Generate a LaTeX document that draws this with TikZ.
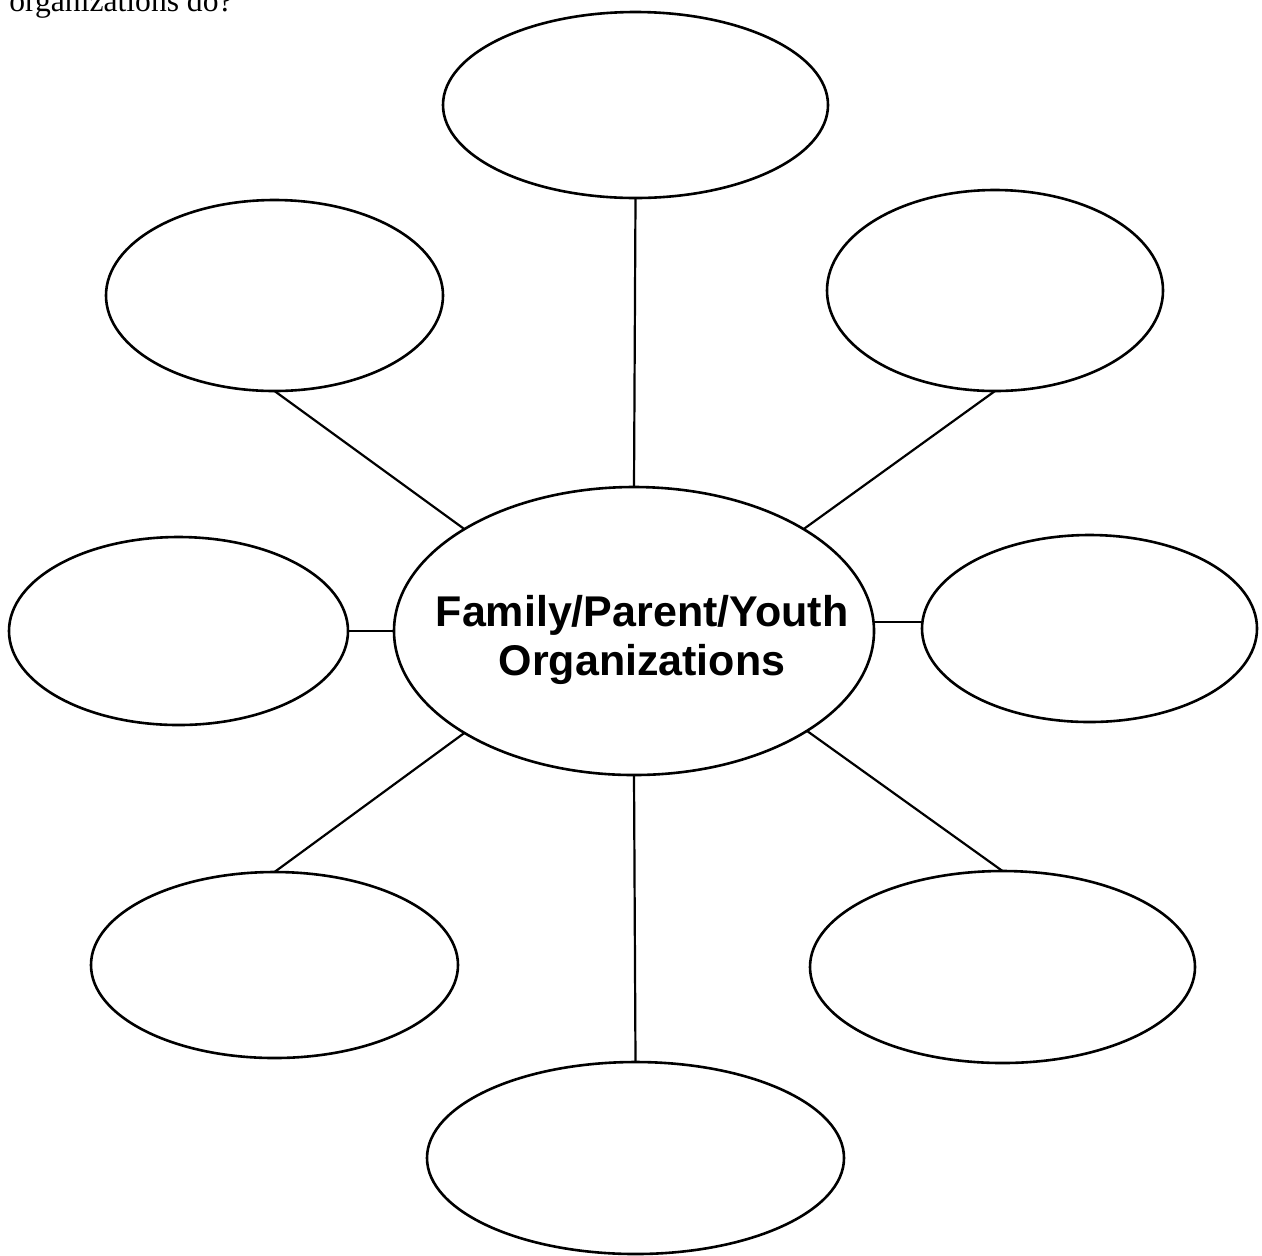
\documentclass[tikz,border=0pt]{standalone}
\usepackage{fontspec}
\setmainfont{Liberation Serif}
\newfontfamily\centerfont{Liberation Sans}
\usetikzlibrary{shapes.geometric}
\tikzset{
  bubble/.style={draw=black, line width=1.3pt, ellipse, inner sep=0pt, outer sep=0pt},
  spoke/.style={draw=black, line width=1.1pt},
}
\begin{document}
\begin{tikzpicture}[x=0.5pt, y=-0.5pt]
\useasboundingbox (0,0) rectangle (1262,1255);
\begin{scope}
\clip (0,0) rectangle (1262,1255);
\node[anchor=base west, inner sep=0pt, font=\fontsize{15.8pt}{18pt}\selectfont] (q) at (9,11.5) {organizations do?};
\end{scope}
\node[bubble, minimum width=192.5pt, minimum height=93pt] (t) at (635.5,105) {};
\node[bubble, minimum width=168.5pt, minimum height=95.5pt] (tl) at (274.5,295.5) {};
\node[bubble, minimum width=168pt, minimum height=100.5pt] (tr) at (995,290.5) {};
\node[bubble, minimum width=169.5pt, minimum height=94pt] (l) at (178.5,631) {};
\node[bubble, minimum width=240pt, minimum height=144pt] (c) at (634,631) {};
\node[bubble, minimum width=167.5pt, minimum height=93.5pt] (r) at (1089.5,628.5) {};
\node[bubble, minimum width=183.5pt, minimum height=93pt] (bl) at (274.5,965) {};
\node[bubble, minimum width=192.5pt, minimum height=96pt] (br) at (1002.5,967) {};
\node[bubble, minimum width=208.5pt, minimum height=96pt] (b) at (635.5,1158) {};
\node[align=center, inner sep=0pt, font=\centerfont\bfseries\fontsize{21.5pt}{24.5pt}\selectfont] (ct) at (642,640) {Family/Parent/Youth\\Organizations};
\coordinate (ry) at (0,622);
\draw[spoke] (t.south) -- (c.north);
\draw[spoke] (tl.south) -- (c.149);
\draw[spoke] (tr.south) -- (c.31);
\draw[spoke] (l.east) -- (c.west);
\draw[spoke] (c.east |- ry) -- (r.west |- ry);
\draw[spoke] (c.211) -- (bl.north);
\draw[spoke] (c.330) -- (br.north);
\draw[spoke] (c.south) -- (b.north);
\end{tikzpicture}
\end{document}
